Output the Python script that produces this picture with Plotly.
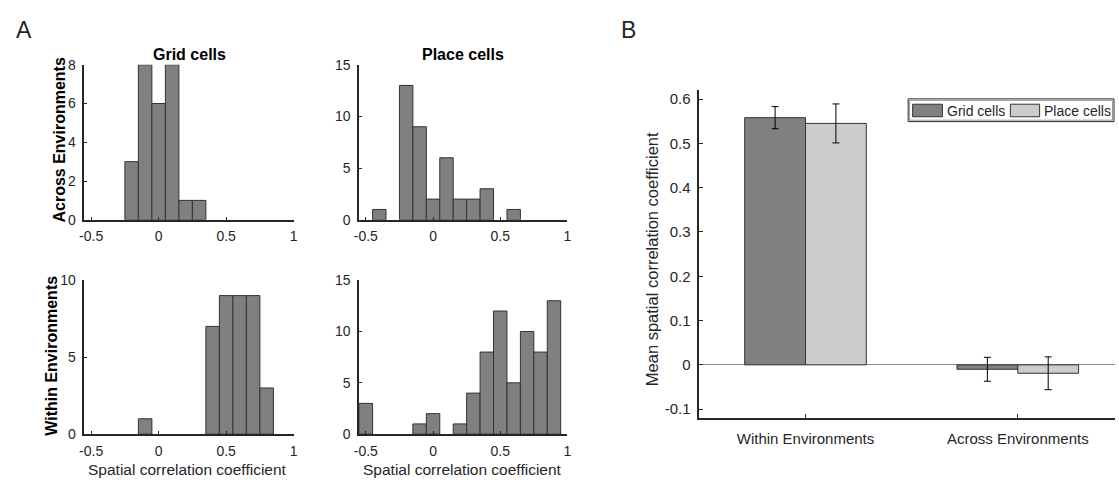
import plotly.graph_objects as go

W, H = 1119, 485

# ---------------- data ----------------
bin_width = 0.1
grid_across_centers = [-0.2, -0.1, 0.0, 0.1, 0.2, 0.3]
grid_across_counts = [3, 8, 6, 8, 1, 1]

place_across_centers = [-0.4, -0.2, -0.1, 0.0, 0.1, 0.2, 0.3, 0.4, 0.6]
place_across_counts = [1, 13, 9, 2, 6, 2, 2, 3, 1]

grid_within_centers = [-0.1, 0.4, 0.5, 0.6, 0.7, 0.8]
grid_within_counts = [1, 7, 9, 9, 9, 3]

place_within_centers = [-0.5, -0.1, 0.0, 0.2, 0.3, 0.4, 0.5, 0.6, 0.7, 0.8, 0.9]
place_within_counts = [3, 1, 2, 1, 4, 8, 12, 5, 10, 8, 13]

conditions = ["Within Environments", "Across Environments"]
grid_mean = [0.558, -0.010]
grid_err = [0.025, 0.027]
place_mean = [0.545, -0.019]
place_err = [0.044, 0.037]

hist_xticks = [-0.5, 0, 0.5, 1]
hist_xticktext = ["-0.5", "0", "0.5", "1"]

# ---------------- helpers ----------------
def fx(px):
    return px / W

def fy(py):
    return 1 - py / H

FONT = "Liberation Sans, Arial, Helvetica, sans-serif"
AX = "#262626"
DARK = "#808080"
LIGHT = "#cccccc"
EDGE = "#333333"

fig = go.Figure()

hists = [
    (grid_across_centers, grid_across_counts, "x", "y"),
    (place_across_centers, place_across_counts, "x2", "y2"),
    (grid_within_centers, grid_within_counts, "x3", "y3"),
    (place_within_centers, place_within_counts, "x4", "y4"),
]
for c, n, xa, ya in hists:
    fig.add_trace(go.Bar(
        x=c, y=n, width=[bin_width] * len(c), xaxis=xa, yaxis=ya,
        marker=dict(color=DARK, line=dict(color=EDGE, width=1)),
        showlegend=False, hoverinfo="x+y",
    ))

err_style = dict(type="data", visible=True, color="black", thickness=1, width=3.5)
fig.add_trace(go.Bar(
    x=conditions, y=grid_mean, name="Grid cells", xaxis="x5", yaxis="y5",
    marker=dict(color=DARK, line=dict(color=EDGE, width=1)),
    error_y=dict(array=grid_err, **err_style), showlegend=False,
))
fig.add_trace(go.Bar(
    x=conditions, y=place_mean, name="Place cells", xaxis="x5", yaxis="y5",
    marker=dict(color=LIGHT, line=dict(color=EDGE, width=1)),
    error_y=dict(array=place_err, **err_style), showlegend=False,
))

LW = 1.5

def hx(domain, anchor):
    return dict(domain=domain, anchor=anchor, range=[-0.55, 1.0],
                tickvals=hist_xticks, ticktext=hist_xticktext,
                showline=True, linecolor=AX, linewidth=LW, ticks="inside",
                ticklen=3, tickcolor=AX, showgrid=False, zeroline=False,
                ticklabelstandoff=3,
                tickfont=dict(size=14, color=AX, family=FONT), fixedrange=True)

def hy(domain, anchor, rng, tv):
    return dict(domain=domain, anchor=anchor, range=rng, tickvals=tv,
                showline=True, linecolor=AX, linewidth=LW, ticks="inside",
                ticklen=3, tickcolor=AX, showgrid=False, zeroline=False,
                ticklabelstandoff=4,
                tickfont=dict(size=14, color=AX, family=FONT), fixedrange=True)

xl = [fx(80), fx(291)]
xr = [fx(357), fx(567)]
yt = [fy(219), fy(58.7)]
yb = [fy(440.7), fy(281.5)]

fig.update_layout(
    width=W, height=H,
    margin=dict(l=0, r=0, t=0, b=0),
    paper_bgcolor="white", plot_bgcolor="white",
    font=dict(family=FONT, color=AX),
    barmode="group", bargap=0.427, bargroupgap=0,
    xaxis=hx(xl, "y"), yaxis=hy(yt, "x", [0, 8], [0, 2, 4, 6, 8]),
    xaxis2=hx(xr, "y2"), yaxis2=hy(yt, "x2", [0, 15], [0, 5, 10, 15]),
    xaxis3=hx(xl, "y3"), yaxis3=hy(yb, "x3", [0, 10], [0, 5, 10]),
    xaxis4=hx(xr, "y4"), yaxis4=hy(yb, "x4", [0, 15], [0, 5, 10, 15]),
    xaxis5=dict(domain=[fx(700), 1], anchor="y5", range=[-0.5, 1.458],
                showline=True, linecolor=AX, linewidth=LW, ticks="inside",
                ticklen=4, tickcolor=AX, showgrid=False, ticklabelstandoff=6,
                tickfont=dict(size=15, color=AX, family=FONT), fixedrange=True),
    yaxis5=dict(domain=[fy(424), fy(85)], anchor="x5", range=[-0.12, 0.62],
                tickvals=[-0.1, 0, 0.1, 0.2, 0.3, 0.4, 0.5, 0.6],
                ticktext=["-0.1", "0", "0.1", "0.2", "0.3", "0.4", "0.5", "0.6"],
                showline=True, linecolor=AX, linewidth=LW, ticks="inside",
                ticklen=4, tickcolor=AX, showgrid=False, ticklabelstandoff=4,
                zeroline=True, zerolinecolor="#8c8c8c", zerolinewidth=1,
                tickfont=dict(size=15, color=AX, family=FONT), fixedrange=True),
)

ann = []
def text(px, py, s, size, bold=False, angle=0, xanchor="center"):
    ann.append(dict(x=fx(px), y=fy(py), xref="paper", yref="paper",
                    text=f"<b>{s}</b>" if bold else s, showarrow=False,
                    textangle=angle, xanchor=xanchor, yanchor="middle",
                    font=dict(size=size, color="black" if bold else AX, family=FONT)))

text(19, 23, "A", 23)
text(629, 23, "B", 23)
text(185.5, 48, "Grid cells", 16, bold=True)
text(461.5, 48, "Place cells", 16, bold=True)
text(54.5, 137, "Across Environments", 16, bold=True, angle=-90)
text(46, 360, "Within Environments", 16, bold=True, angle=-90)
text(183.5, 477.5, "Spatial correlation coefficient", 15.5)
text(461.5, 477.5, "Spatial correlation coefficient", 15.5)
text(653, 260, "Mean spatial correlation coefficient", 16.5, angle=-90)

# legend
text(947.5, 106, "Grid cells", 14, xanchor="left")
text(1045.5, 106, "Place cells", 14, xanchor="left")

shapes = [
    dict(type="rect", xref="paper", yref="paper", x0=fx(910.5), x1=fx(1118), y0=fy(117.5), y1=fy(94),
         line=dict(color=AX, width=1), fillcolor="white", layer="below"),
    dict(type="rect", xref="paper", yref="paper", x0=fx(912), x1=fx(1116.5), y0=fy(116), y1=fy(95.5),
         line=dict(color="#9a9a9a", width=1)),
    dict(type="rect", xref="paper", yref="paper", x0=fx(915), x1=fx(945), y0=fy(112.5), y1=fy(99.5),
         line=dict(color=EDGE, width=1), fillcolor=DARK),
    dict(type="rect", xref="paper", yref="paper", x0=fx(1013.5), x1=fx(1043), y0=fy(112.5), y1=fy(99.5),
         line=dict(color=EDGE, width=1), fillcolor=LIGHT),
]

fig.update_layout(annotations=ann, shapes=shapes)
fig.write_html("out.html")
